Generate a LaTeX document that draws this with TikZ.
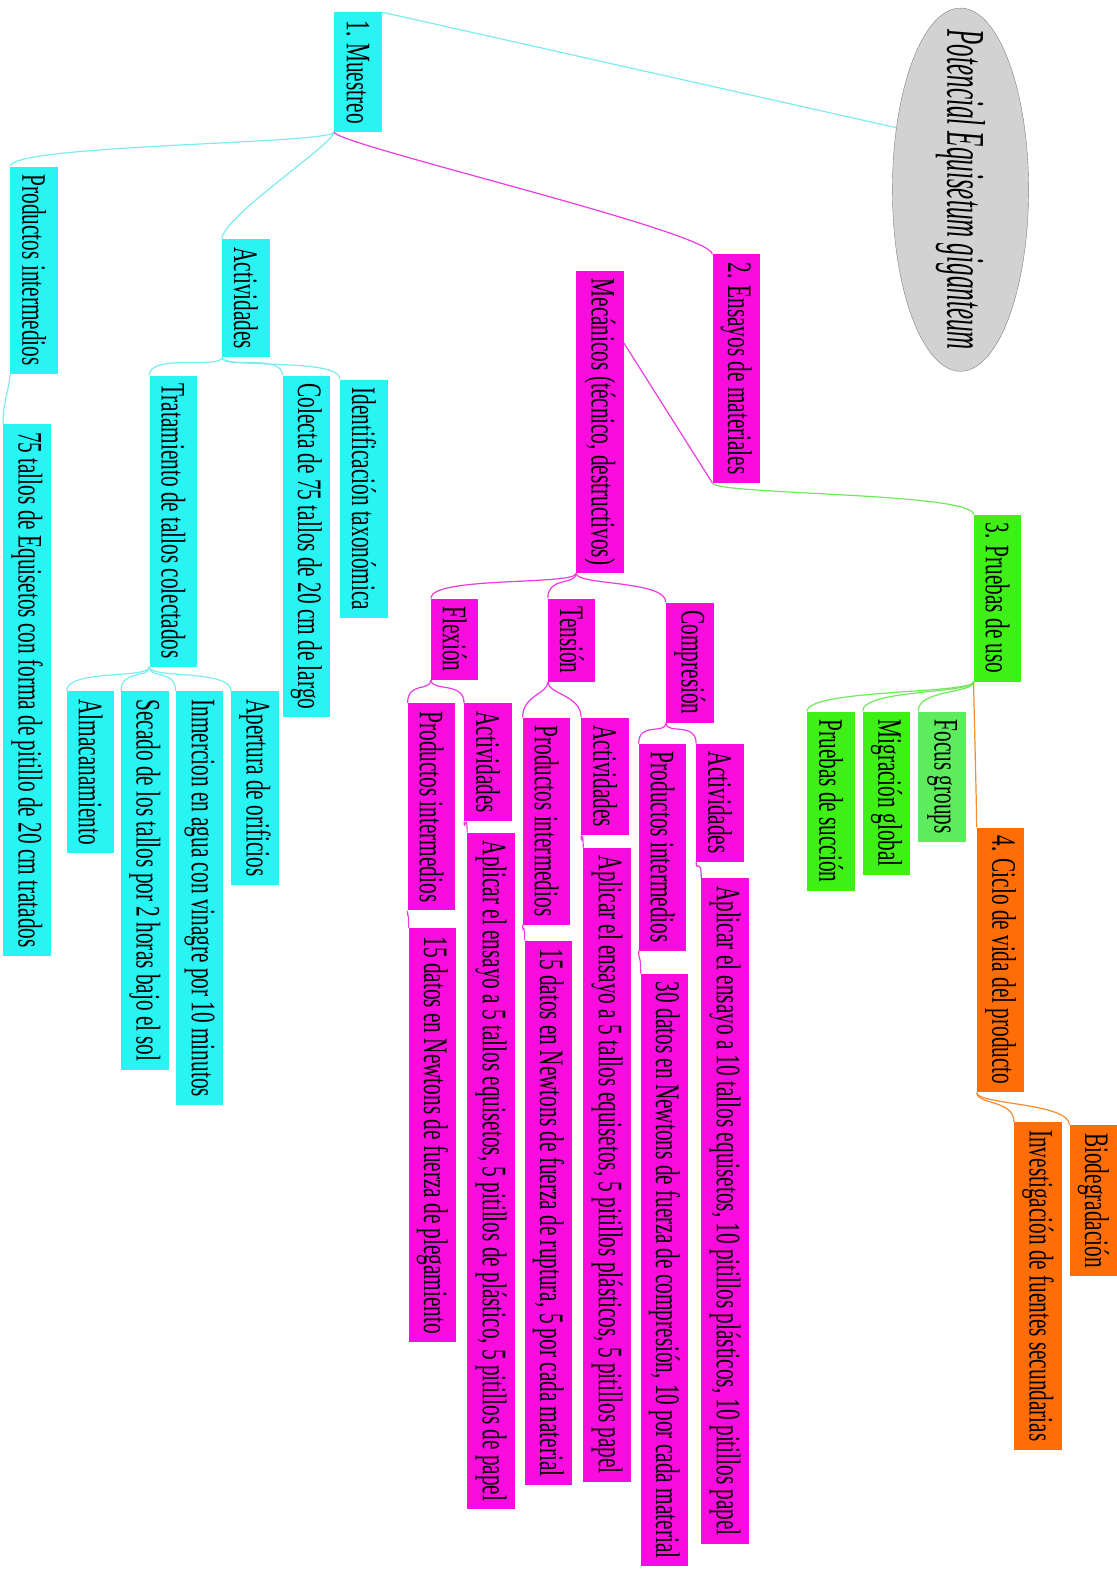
\documentclass[tikz,border=0pt]{standalone}
\usepackage{fontspec}
\setmainfont{Liberation Serif}
\newfontfamily\mapafuente[FakeStretch=0.62]{Liberation Serif}
\newfontfamily\raizfuente[FakeStretch=0.46]{Liberation Serif}
\usetikzlibrary{shapes.geometric,calc}

\definecolor{cianC}{RGB}{40,244,244}
\definecolor{magC}{RGB}{250,12,222}
\definecolor{verdeC}{RGB}{62,240,22}
\definecolor{verdeF}{RGB}{92,236,92}
\definecolor{naranjaC}{RGB}{255,110,6}
\definecolor{grisC}{RGB}{210,210,210}
\definecolor{lcianC}{RGB}{125,236,240}
\definecolor{lmagC}{RGB}{235,60,225}
\definecolor{lverdeC}{RGB}{110,235,90}
\definecolor{lnaranjaC}{RGB}{245,140,50}

\tikzset{
  caja/.style={rotate=-90, anchor=south west, inner xsep=8pt, inner ysep=0pt,
    minimum height=47pt, text=black, font=\mapafuente\fontsize{34}{38}\selectfont},
  cian/.style={caja, fill=cianC},
  mag/.style={caja, fill=magC},
  verde/.style={caja, fill=verdeC},
  naranja/.style={caja, fill=naranjaC},
  lcian/.style={draw=lcianC, line width=1.2pt},
  lmag/.style={draw=lmagC, line width=1.2pt},
  lverde/.style={draw=lverdeC, line width=1.2pt},
  lnaranja/.style={draw=lnaranjaC, line width=1.2pt},
}

\begin{document}
\begin{tikzpicture}[x=1pt,y=-1pt]
        \useasboundingbox (0,0) rectangle (1107,1568) ;
        % raiz
        \node[ellipse, rotate=-90, minimum width=360pt, minimum height=135pt, inner sep=0pt,
          fill=grisC, draw=gray] (root) at (952,188) {} ;
        \node[rotate=-90, inner sep=0pt, font=\raizfuente\itshape\fontsize{54}{58}\selectfont]
          (rootT) at (root.center) {Potencial Equisetum giganteum} ;
        % 1. Muestreo
        \node[cian] (mues) at (331,12) {1. Muestreo} ;
        \node[cian] (mprod) at (10,165) {Productos intermedios} ;
        \node[cian] (mtal) at (3,420) {75 tallos de Equisetos con forma de pitillo de 20 cm tratados} ;
        \node[cian] (mact) at (220,237) {Actividades} ;
        \node[cian] (trat) at (148,372) {Tratamiento de tallos colectados} ;
        \node[cian] (cole) at (280,372) {Colecta de 75 tallos de 20 cm de largo} ;
        \node[cian] (iden) at (337,376) {Identificación taxonómica} ;
        \node[cian] (alma) at (66,685) {Almacanamiento} ;
        \node[cian] (seca) at (120,685) {Secado de los tallos por 2 horas bajo el sol} ;
        \node[cian] (inme) at (174,685) {Inmercion en agua con vinagre por 10 minutos} ;
        \node[cian] (aper) at (229,685) {Apertura de orificios} ;
        % 2. Ensayos
        \node[mag] (ensa) at (706,252) {2. Ensayos de materiales} ;
        \node[mag] (meca) at (571,268) {Mecánicos (técnico, destructivos)} ;
        \node[mag] (flex) at (427,593) {Flexión} ;
        \node[mag] (tens) at (543,593) {Tensión} ;
        \node[mag] (comp) at (660,597) {Compresión} ;
        \node[mag] (fprod) at (404,697) {Productos intermedios} ;
        \node[mag] (fact) at (460,697) {Actividades} ;
        \node[mag] (fdat) at (405,920) {15 datos en Newtons de fuerza de plegamiento} ;
        \node[mag] (fapl) at (463,825) {Aplicar el ensayo a 5 tallos equisetos, 5 pitillos de plástico, 5 pitillos de papel} ;
        \node[mag] (tprod) at (518,711) {Productos intermedios} ;
        \node[mag] (tact) at (576,711) {Actividades} ;
        \node[mag] (tdat) at (520,932) {15 datos en Newtons de fuerza de ruptura, 5 por cada material} ;
        \node[mag] (tapl) at (578,840) {Aplicar el ensayo a 5 tallos equisetos, 5 pitillos plásticos, 5 pitillos papel} ;
        \node[mag] (cprod) at (633,737) {Productos intermedios} ;
        \node[mag] (cact) at (690,737) {Actividades} ;
        \node[mag] (cdat) at (635,965) {30 datos en Newtons de fuerza de compresión, 10 por cada material} ;
        \node[mag] (capl) at (695,870) {Aplicar el ensayo a 10 tallos equisetos, 10 pitillos plásticos, 10 pitillos papel} ;
        % 3. Pruebas
        \node[verde] (prue) at (965,510) {3. Pruebas de uso} ;
        \node[caja, fill=verdeF] (focu) at (910,705) {Focus groups} ;
        \node[verde] (migr) at (855,705) {Migración global} ;
        \node[verde] (succ) at (800,705) {Pruebas de succión} ;
        % 4. Ciclo
        \node[naranja] (cicl) at (968,820) {4. Ciclo de vida del producto} ;
        \node[naranja] (biod) at (1060,1115) {Biodegradación} ;
        \node[naranja] (inve) at (1005,1112) {Investigación de fuentes secundarias} ;

        % ramas
        \draw[lcian] (mues.north west) -- (root.226) ;
        \foreach \p/\h in {mues/mprod, mues/mact, mprod/mtal, mact/trat, mact/cole, mact/iden,
            trat/alma, trat/seca, trat/inme, trat/aper}
          \draw[lcian] (\p.south east) .. controls +(0,12) and +(0,-22) .. (\h.south west) ;
        \foreach \p/\h in {mues/ensa, meca/flex, meca/tens, meca/comp, flex/fprod, flex/fact,
            fprod/fdat, fact/fapl, tens/tprod, tens/tact, tprod/tdat, tact/tapl,
            comp/cprod, comp/cact, cprod/cdat, cact/capl}
          \draw[lmag] (\p.south east) .. controls +(0,12) and +(0,-22) .. (\h.south west) ;
        \draw[lmag] ($(meca.north west)+(0,72)$) -- (ensa.south east) ;
        \foreach \p/\h in {ensa/prue, prue/focu, prue/migr, prue/succ}
          \draw[lverde] (\p.south east) .. controls +(0,12) and +(0,-22) .. (\h.south west) ;
        \foreach \p/\h in {prue/cicl, cicl/biod, cicl/inve}
          \draw[lnaranja] (\p.south east) .. controls +(0,12) and +(0,-22) .. (\h.south west) ;
\end{tikzpicture}
\end{document}
